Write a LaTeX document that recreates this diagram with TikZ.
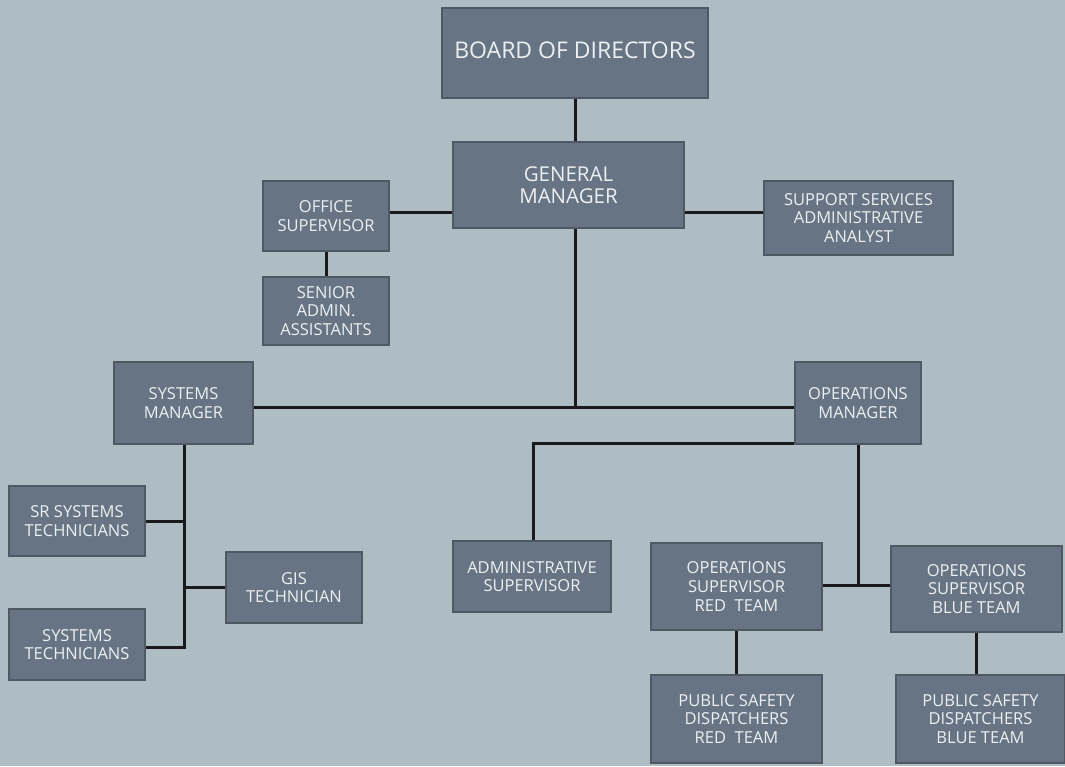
\documentclass[tikz,border=0pt]{standalone}
\usepackage{fontspec}
\setmainfont{Open Sans}
\usetikzlibrary{backgrounds}
\definecolor{bgc}{RGB}{174,188,196}
\definecolor{boxc}{RGB}{102,116,132}
\definecolor{edgec}{RGB}{78,89,99}
\definecolor{txtc}{RGB}{236,240,242}
\definecolor{linec}{RGB}{24,26,28}
\tikzset{
  box/.style={draw=edgec, line width=1.2pt, fill=boxc, text=txtc, align=center, inner sep=0pt,
    font=\fontsize{16.5}{18.8}\selectfont},
  conn/.style={draw=linec, line width=3pt},
}
\begin{document}
\begin{tikzpicture}[x=1pt,y=-1pt]
\useasboundingbox (0,0) rectangle (1065,766);
% coordinates for connector levels
\coordinate (y212) at (0,212);
\coordinate (y407) at (0,407);
\coordinate (y443) at (0,443);
\coordinate (y585) at (0,585);
\coordinate (y521) at (0,521);
\coordinate (y587) at (0,587);
\coordinate (y647) at (0,647);
\coordinate (x575) at (575,0);
\coordinate (x533) at (533,0);
\coordinate (x813) at (813,0);
\coordinate (x858) at (858,0);
\coordinate (x184) at (184,0);
% nodes
\node[box, minimum width=266, minimum height=90, font=\fontsize{23}{26}\selectfont] (board) at (575,53) {\raisebox{5pt}{BOARD OF DIRECTORS}};
\node[box, minimum width=231, minimum height=86, font=\fontsize{20.5}{22.5}\selectfont] (gm) at (568.5,185) {GENERAL\\MANAGER};
\node[box, minimum width=126, minimum height=70] (office) at (326,216) {OFFICE\\SUPERVISOR};
\node[box, minimum width=126, minimum height=68] (senior) at (326,311) {SENIOR\\ADMIN.\\ASSISTANTS};
\node[box, minimum width=189, minimum height=74] (support) at (858.5,218) {SUPPORT SERVICES\\ADMINISTRATIVE\\ANALYST};
\node[box, minimum width=139, minimum height=82] (sysmgr) at (183.5,403) {SYSTEMS\\MANAGER};
\node[box, minimum width=126, minimum height=82] (opsmgr) at (858,403) {OPERATIONS\\MANAGER};
\node[box, minimum width=136, minimum height=70] (srtech) at (77,521) {SR SYSTEMS\\TECHNICIANS};
\node[box, minimum width=136, minimum height=71] (gis) at (294,587.5) {GIS\\TECHNICIAN};
\node[box, minimum width=136, minimum height=71] (systech) at (77,644.5) {SYSTEMS\\TECHNICIANS};
\node[box, minimum width=158, minimum height=71] (adminsup) at (532,576.5) {ADMINISTRATIVE\\SUPERVISOR};
\node[box, minimum width=171, minimum height=87] (osred) at (736.5,586.5) {OPERATIONS\\SUPERVISOR\\RED\ \ TEAM};
\node[box, minimum width=171, minimum height=86] (osblue) at (976.5,589) {OPERATIONS\\SUPERVISOR\\BLUE TEAM};
\node[box, minimum width=171, minimum height=88] (psdred) at (736.5,719) {PUBLIC SAFETY\\DISPATCHERS\\RED\ \ TEAM};
\node[box, minimum width=169, minimum height=88] (psdblue) at (980.5,719) {PUBLIC SAFETY\\DISPATCHERS\\BLUE TEAM};
% connectors (behind boxes)
\begin{scope}[on background layer]
\fill[bgc] (0,0) rectangle (1065,766);
\draw[conn] (board.south -| x575) -- (gm.north -| x575);
\draw[conn] (office.east |- y212) -- (gm.west |- y212);
\draw[conn] (gm.east |- y212) -- (support.west |- y212);
\draw[conn] (office.south) -- (senior.north);
\draw[conn] (gm.south -| x575) -- (x575 |- y407);
\draw[conn] (sysmgr.east |- y407) -- (opsmgr.west |- y407);
\draw[conn] (x813 |- y443) -- (x533 |- y443) -- (adminsup.north -| x533);
\draw[conn] (opsmgr.south -| x858) -- (x858 |- y585);
\draw[conn] (osred.east |- y585) -- (osblue.west |- y585);
\draw[conn] (osred.south) -- (osred.south |- psdred.north);
\draw[conn] (osblue.south) -- (osblue.south |- psdblue.north);
\draw[conn] (sysmgr.south -| x184) -- (x184 |- y647) -- (systech.east |- y647);
\draw[conn] (x184 |- y521) -- (srtech.east |- y521);
\draw[conn] (x184 |- y587) -- (gis.west |- y587);
\end{scope}
\end{tikzpicture}
\end{document}
